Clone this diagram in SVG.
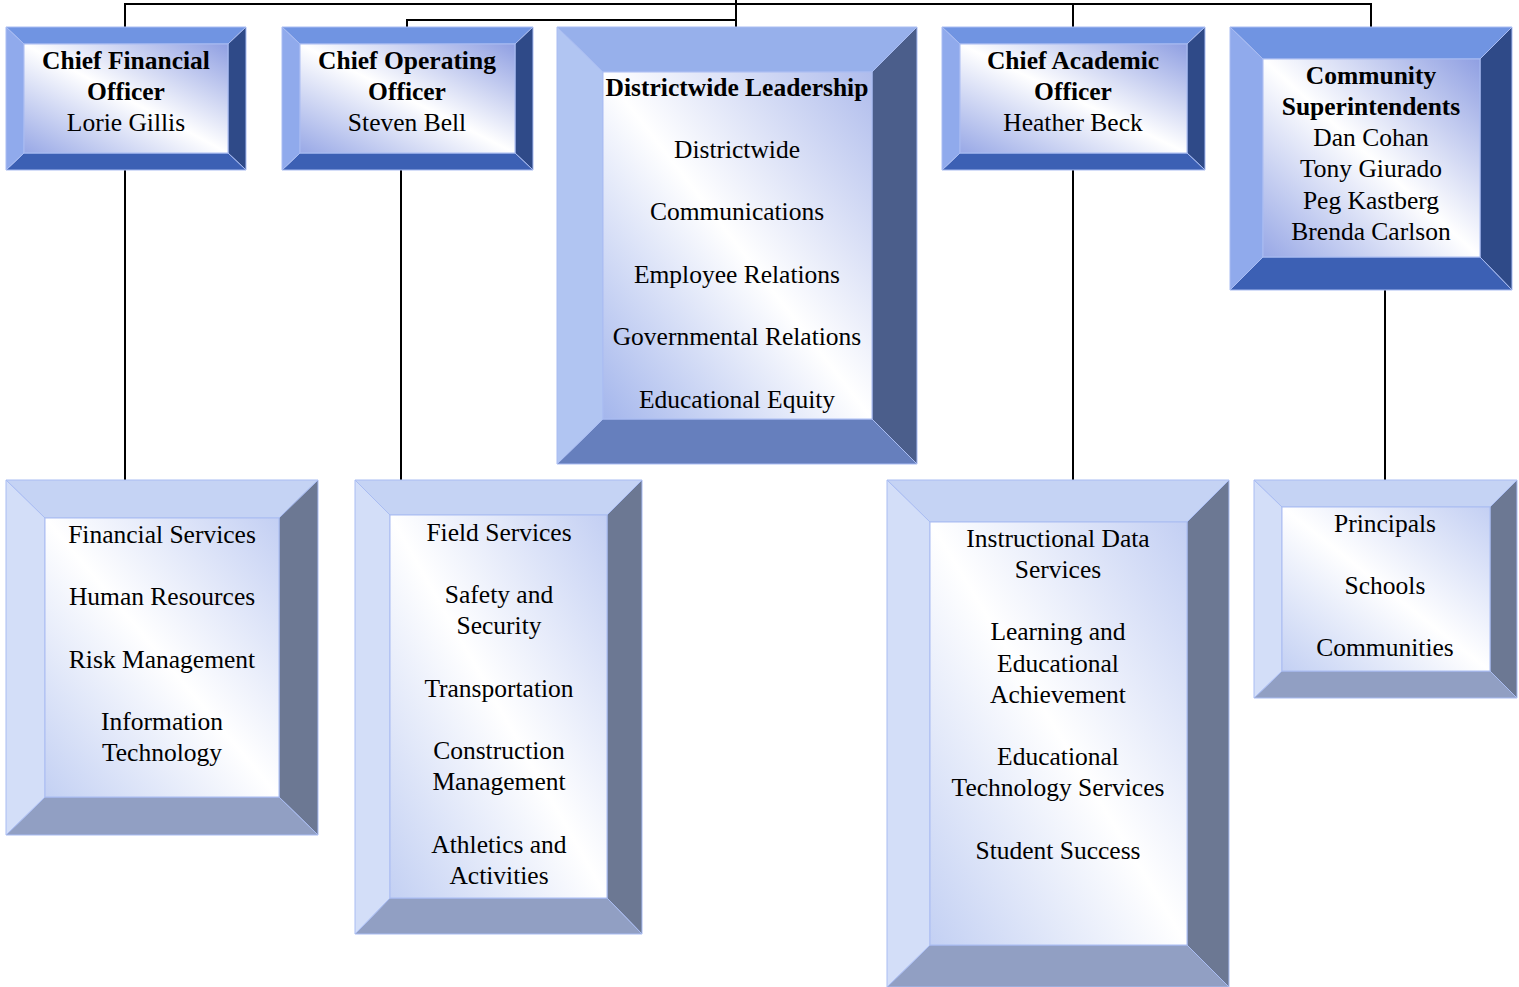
<svg xmlns="http://www.w3.org/2000/svg" width="1519" height="987" viewBox="0 0 1519 987">
<style>
text{font-family:"Liberation Serif","Times New Roman",serif;font-size:25.5px;fill:#000;text-anchor:middle}
.b{font-weight:bold}
.conn{stroke:#000;stroke-width:2;fill:none}
polygon,rect{stroke:#A9BCF2;stroke-width:1}
.dT{fill:#7094E2}.dL{fill:#90AAEC}.dR{fill:#2F4A88}.dB{fill:#3C60B4}.dI{fill:url(#gD)}
.mT{fill:#97B0EB}.mL{fill:#B1C5F2}.mR{fill:#4B5E8B}.mB{fill:#667FBD}.mI{fill:url(#gM)}
.lT{fill:#C5D3F4}.lL{fill:#D3DEF8}.lR{fill:#6C7893}.lB{fill:#919FC3}.lI{fill:url(#gL)}
</style>
<defs>
<linearGradient id="gD" x1="1" y1="0" x2="0" y2="1">
<stop offset="0" stop-color="#8F9FE2"/><stop offset="0.5" stop-color="#FFFFFF"/><stop offset="1" stop-color="#98A8E6"/>
</linearGradient>
<linearGradient id="gM" x1="1" y1="0" x2="0" y2="1">
<stop offset="0" stop-color="#AFBCEC"/><stop offset="0.5" stop-color="#FFFFFF"/><stop offset="1" stop-color="#A4B6EC"/>
</linearGradient>
<linearGradient id="gL" x1="1" y1="0" x2="0" y2="1">
<stop offset="0" stop-color="#C3CFF3"/><stop offset="0.5" stop-color="#FFFFFF"/><stop offset="1" stop-color="#C3D0F3"/>
</linearGradient>
</defs>

<g id="connectors">
<polyline class="conn" points="125,27 125,4 1371,4 1371,27"/>
<line class="conn" x1="736" y1="0" x2="736" y2="27"/>
<polyline class="conn" points="407,27 407,20 736,20"/>
<line class="conn" x1="1073" y1="4" x2="1073" y2="27"/>
<line class="conn" x1="125" y1="170" x2="125" y2="480"/>
<line class="conn" x1="401" y1="170" x2="401" y2="480"/>
<line class="conn" x1="1073" y1="170" x2="1073" y2="481"/>
<line class="conn" x1="1385" y1="290" x2="1385" y2="480"/>
</g>

<g id="cfo">
<polygon class="dT" points="6,27 246,27 228,44 24,44"/>
<polygon class="dR" points="246,27 246,170 228,153 228,44"/>
<polygon class="dB" points="6,170 246,170 228,153 24,153"/>
<polygon class="dL" points="6,27 24,44 24,153 6,170"/>
<rect class="dI" x="24" y="44" width="204" height="109"/>
<text class="b" x="126" y="69">Chief Financial</text>
<text class="b" x="126" y="100">Officer</text>
<text x="126" y="131">Lorie Gillis</text>
</g>

<g id="coo">
<polygon class="dT" points="282,27 533,27 515,44 300,44"/>
<polygon class="dR" points="533,27 533,170 515,153 515,44"/>
<polygon class="dB" points="282,170 533,170 515,153 300,153"/>
<polygon class="dL" points="282,27 300,44 300,153 282,170"/>
<rect class="dI" x="300" y="44" width="215" height="109"/>
<text class="b" x="407" y="69">Chief Operating</text>
<text class="b" x="407" y="100">Officer</text>
<text x="407" y="131">Steven Bell</text>
</g>

<g id="districtwide">
<polygon class="mT" points="557,27 917,27 872,72 603,72"/>
<polygon class="mR" points="917,27 917,464 872,419 872,72"/>
<polygon class="mB" points="557,464 917,464 872,419 603,419"/>
<polygon class="mL" points="557,27 603,72 603,419 557,464"/>
<rect class="mI" x="603" y="72" width="269" height="347"/>
<text class="b" x="737" y="96">Districtwide Leadership</text>
<text x="737" y="158">Districtwide</text>
<text x="737" y="220">Communications</text>
<text x="737" y="283">Employee Relations</text>
<text x="737" y="345">Governmental Relations</text>
<text x="737" y="408">Educational Equity</text>
</g>

<g id="cao">
<polygon class="dT" points="942,27 1205,27 1187,44 960,44"/>
<polygon class="dR" points="1205,27 1205,170 1187,153 1187,44"/>
<polygon class="dB" points="942,170 1205,170 1187,153 960,153"/>
<polygon class="dL" points="942,27 960,44 960,153 942,170"/>
<rect class="dI" x="960" y="44" width="227" height="109"/>
<text class="b" x="1073" y="69">Chief Academic</text>
<text class="b" x="1073" y="100">Officer</text>
<text x="1073" y="131">Heather Beck</text>
</g>

<g id="community">
<polygon class="dT" points="1230,27 1512,27 1480,59 1263,59"/>
<polygon class="dR" points="1512,27 1512,290 1480,257 1480,59"/>
<polygon class="dB" points="1230,290 1512,290 1480,257 1263,257"/>
<polygon class="dL" points="1230,27 1263,59 1263,257 1230,290"/>
<rect class="dI" x="1263" y="59" width="217" height="198"/>
<text class="b" x="1371" y="84">Community</text>
<text class="b" x="1371" y="115">Superintendents</text>
<text x="1371" y="146">Dan Cohan</text>
<text x="1371" y="177">Tony Giurado</text>
<text x="1371" y="209">Peg Kastberg</text>
<text x="1371" y="240">Brenda Carlson</text>
</g>

<g id="financial">
<polygon class="lT" points="6,480 318,480 279,518 45,518"/>
<polygon class="lR" points="318,480 318,835 279,797 279,518"/>
<polygon class="lB" points="6,835 318,835 279,797 45,797"/>
<polygon class="lL" points="6,480 45,518 45,797 6,835"/>
<rect class="lI" x="45" y="518" width="234" height="279"/>
<text x="162" y="543">Financial Services</text>
<text x="162" y="605">Human Resources</text>
<text x="162" y="668">Risk Management</text>
<text x="162" y="730">Information</text>
<text x="162" y="761">Technology</text>
</g>

<g id="field">
<polygon class="lT" points="355,480 642,480 607,515 390,515"/>
<polygon class="lR" points="642,480 642,934 607,898 607,515"/>
<polygon class="lB" points="355,934 642,934 607,898 390,898"/>
<polygon class="lL" points="355,480 390,515 390,898 355,934"/>
<rect class="lI" x="390" y="515" width="217" height="383"/>
<text x="499" y="541">Field Services</text>
<text x="499" y="603">Safety and</text>
<text x="499" y="634">Security</text>
<text x="499" y="697">Transportation</text>
<text x="499" y="759">Construction</text>
<text x="499" y="790">Management</text>
<text x="499" y="853">Athletics and</text>
<text x="499" y="884">Activities</text>
</g>

<g id="instructional">
<polygon class="lT" points="887,480 1229,480 1187,522 930,522"/>
<polygon class="lR" points="1229,480 1229,987 1187,945 1187,522"/>
<polygon class="lB" points="887,987 1229,987 1187,945 930,945"/>
<polygon class="lL" points="887,480 930,522 930,945 887,987"/>
<rect class="lI" x="930" y="522" width="257" height="423"/>
<text x="1058" y="547">Instructional Data</text>
<text x="1058" y="578">Services</text>
<text x="1058" y="640">Learning and</text>
<text x="1058" y="672">Educational</text>
<text x="1058" y="703">Achievement</text>
<text x="1058" y="765">Educational</text>
<text x="1058" y="796">Technology Services</text>
<text x="1058" y="859">Student Success</text>
</g>

<g id="principals">
<polygon class="lT" points="1254,480 1517,480 1490,507 1282,507"/>
<polygon class="lR" points="1517,480 1517,698 1490,671 1490,507"/>
<polygon class="lB" points="1254,698 1517,698 1490,671 1282,671"/>
<polygon class="lL" points="1254,480 1282,507 1282,671 1254,698"/>
<rect class="lI" x="1282" y="507" width="208" height="164"/>
<text x="1385" y="532">Principals</text>
<text x="1385" y="594">Schools</text>
<text x="1385" y="656">Communities</text>
</g>
</svg>
